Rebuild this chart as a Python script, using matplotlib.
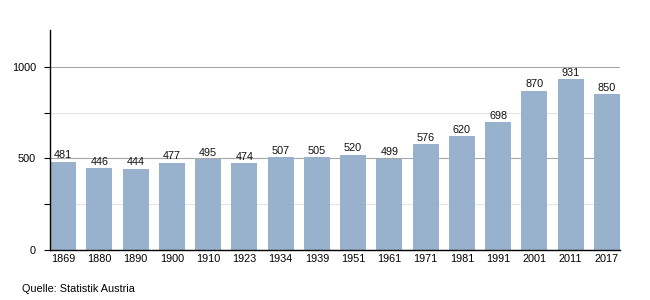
import matplotlib.pyplot as plt
import numpy as np
from matplotlib.ticker import MultipleLocator

plt.rcParams.update({
    "font.family": ["Liberation Sans", "DejaVu Sans"],
    "font.size": 7.8,
})

years = ["1869", "1880", "1890", "1900", "1910", "1923", "1934", "1939",
         "1951", "1961", "1971", "1981", "1991", "2001", "2011", "2017"]
values = [481, 446, 444, 477, 495, 474, 507, 505,
          520, 499, 576, 620, 698, 870, 931, 850]

BAR = "#98b1cc"
WIDTH = 0.72

fig = plt.figure(figsize=(6.5, 3.0), dpi=100)
ax = fig.add_axes([50 / 650, 50 / 300, 570 / 650, 220 / 300])

x = np.arange(len(years))
ax.bar(x, values, WIDTH, color=BAR, zorder=2)
for xi, v in zip(x, values):
    ax.text(xi, v + 8, str(v), ha="center", va="bottom", color="#111")

ax.set_xlim(-WIDTH / 2, len(years) - 1 + WIDTH / 2)
ax.set_ylim(0, 1200)
ax.yaxis.set_major_locator(MultipleLocator(500))
ax.yaxis.set_minor_locator(MultipleLocator(250))
ax.grid(axis="y", which="major", color="#a8a8a8", linewidth=0.8, zorder=0)
ax.grid(axis="y", which="minor", color="#e4e4e4", linewidth=0.8, zorder=0)
ax.set_axisbelow(True)

ax.set_xticks(x)
ax.set_xticklabels(years)
ax.tick_params(axis="x", length=0, pad=3)
ax.tick_params(axis="y", which="major", length=4, width=0.8, pad=6)
ax.tick_params(axis="y", which="minor", length=4, width=0.8)

for s in ("top", "right"):
    ax.spines[s].set_visible(False)
for s in ("left", "bottom"):
    ax.spines[s].set_linewidth(1.0)
    ax.spines[s].set_color("black")

fig.text(22 / 650, 1 - 289 / 300, "Quelle: Statistik Austria",
         ha="left", va="center")

fig.savefig("out.png", dpi=100)
